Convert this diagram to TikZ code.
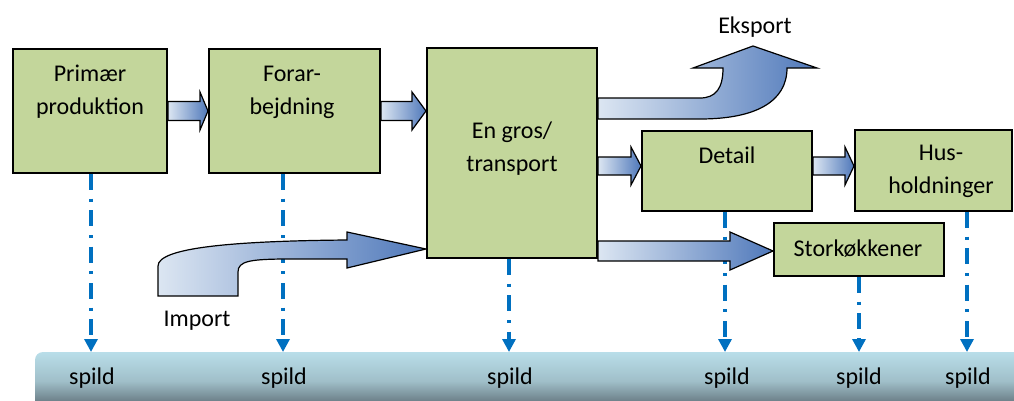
\documentclass[tikz,border=0pt]{standalone}
\usepackage{fontspec}
\setmainfont{Carlito}
\usetikzlibrary{arrows.meta,calc}
\definecolor{boxgreen}{HTML}{C3D69B}
\definecolor{arrlight}{HTML}{DCE6F2}
\definecolor{arrdark}{HTML}{4F78BA}
\definecolor{spillblue}{HTML}{0070C0}
\definecolor{bandtop}{HTML}{B9DEE9}
\definecolor{bandmid}{HTML}{A0BFC9}
\definecolor{bandbot}{HTML}{56656D}
\pgfdeclarelayer{bg}
\pgfsetlayers{bg,main}
\begin{document}
\begin{tikzpicture}[x=0.75pt,y=-0.75pt,
  box/.style={draw=black, line width=1.5pt, fill=boxgreen, inner sep=0pt},
  lbl/.style={font=\fontsize{18}{24.75}\selectfont, align=center, inner sep=0pt},
  barrow/.style={draw=black, line width=0.9pt, left color=arrlight, right color=arrdark, line join=miter},
  spill/.style={draw=spillblue, line width=2.4pt, dash pattern=on 12pt off 6.5pt on 2.25pt off 6.5pt,
    -{Triangle[length=9.75pt,width=9.75pt]}},
]
\useasboundingbox (0,0) rectangle (1014,400);
\clip (0,0) rectangle (1014,400);

% boxes
\path (90,111) node[box, minimum width=115.5pt, minimum height=93pt] (prim) {};
\path (294.5,111) node[box, minimum width=128.25pt, minimum height=93pt] (forar) {};
\path (512,153) node[box, minimum width=127.5pt, minimum height=157.5pt] (engros) {};
\path (727,171) node[box, minimum width=127.5pt, minimum height=60pt] (detail) {};
\path (933.5,170.5) node[box, minimum width=117.75pt, minimum height=60.75pt] (hus) {};
\path (859,249.5) node[box, minimum width=127.5pt, minimum height=39.75pt] (stork) {};

% band coordinates and spild labels
\coordinate (b1) at (91,352);
\coordinate (b2) at (283,352);
\coordinate (b3) at (509,352);
\coordinate (b4) at (725,352);
\coordinate (b5) at (859,352);
\coordinate (b6) at (967,352);

\begin{pgfonlayer}{bg}
% band
\path[top color=bandtop, bottom color=bandbot, middle color=bandmid, rounded corners=6pt]
  (35,410) -- (35,352) -- (1030,352) -- (1030,410) -- cycle;
% spill lines
\draw[spill] (prim.south -| b1) -- (b1);
\draw[spill] (forar.south -| b2) -- (b2);
\draw[spill] (engros.south -| b3) -- (b3);
\draw[spill] (detail.south -| b4) -- (b4);
\draw[spill] (stork.south -| b5) -- (b5);
\draw[spill] (hus.south -| b6) -- (b6);
% block arrows
\path[barrow] (prim.east |- 0,101.5) -- (200,101.5) -- (200,92) -- (forar.west |- 0,111) -- (200,130) -- (200,120.5) -- (prim.east |- 0,120.5) -- cycle;
\path[barrow] (forar.east |- 0,101.5) -- (412,101.5) -- (412,92) -- (engros.west |- 0,111) -- (412,130) -- (412,120.5) -- (forar.east |- 0,120.5) -- cycle;
\path[barrow] (engros.east |- 0,157) -- (631,157) -- (631,147) -- (detail.west |- 0,166) -- (631,185) -- (631,175) -- (engros.east |- 0,175) -- cycle;
\path[barrow] (detail.east |- 0,157) -- (845,157) -- (845,147) -- (hus.west |- 0,166) -- (845,185) -- (845,175) -- (detail.east |- 0,175) -- cycle;
\path[barrow] (engros.east |- 0,241) -- (730,241) -- (730,232) -- (stork.west |- 0,251) -- (730,270) -- (730,261) -- (engros.east |- 0,261) -- cycle;
% export
\path[barrow] (engros.east |- 0,98) -- (700,98) .. controls (716,98) and (723,88) .. (723,68) -- (693,68) -- (753,46) -- (817,68) -- (787,68) .. controls (787,102) and (755,119) .. (700,119) -- (engros.east |- 0,119) -- cycle;
% import
\path[barrow] (158,296) -- (158,266) .. controls (158,248) and (230,241) .. (347,240) -- (347,232) -- (engros.west |- 0,249) -- (347,268) -- (347,259) -- (290,259) .. controls (250,259) and (238,261) .. (238,272) -- (238,296) -- cycle;
\end{pgfonlayer}

% labels
\node[lbl] (s1) at (92,378) {spild};
\node[lbl] (s2) at (284,378) {spild};
\node[lbl] (s3) at (510,378) {spild};
\node[lbl] (s4) at (727,378) {spild};
\node[lbl] (s5) at (859,378) {spild};
\node[lbl] (s6) at (968,378) {spild};
\node[lbl] (tprim) at (90,92) {Primær\\produktion};
\node[lbl] (tforar) at (292,92) {Forar-\\bejdning};
\node[lbl] (tengros) at (512,149) {En gros/\\transport};
\node[lbl] (tdetail) at (727,155) {Detail};
\node[lbl] (thus) at (941,171) {Hus-\\holdninger};
\node[lbl] (tstork) at (858,249) {Storkøkkener};
\node[lbl] (teksport) at (755,27) {Eksport};
\node[lbl] (timport) at (197,321) {Import};
\end{tikzpicture}
\end{document}
